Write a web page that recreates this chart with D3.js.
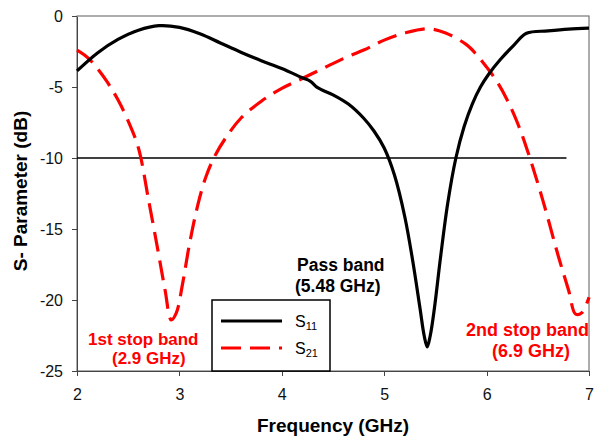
<!DOCTYPE html>
<html lang="en">
<head>
<meta charset="utf-8">
<title>S-Parameter</title>
<script src="https://d3js.org/d3.v7.min.js"></script>
<style>
  html, body { margin: 0; padding: 0; background: #fff; }
  text { font-family: Arial, "Liberation Sans", sans-serif; }
  .axis path, .axis line { fill: none; stroke: #444; shape-rendering: crispEdges; }
  .axis text { font-size: 16px; fill: #111; }
</style>
</head>
<body>
<script>
// frequency (GHz) and dB values
var s11Freq = [2.0, 2.2, 2.4, 2.6, 2.8, 3.0, 3.2, 3.4, 3.6, 3.8, 4.0, 4.2, 4.28, 4.35, 4.5, 4.65, 4.8, 4.9, 5.0, 5.1, 5.2, 5.28, 5.35, 5.39, 5.42, 5.45, 5.49, 5.55, 5.62, 5.7, 5.78, 5.86, 5.94, 6.02, 6.13, 6.26, 6.39, 6.6, 6.8, 7.0];
var s11Val  = [-3.87, -2.6, -1.65, -1.0, -0.68, -0.8, -1.25, -1.9, -2.55, -3.15, -3.7, -4.35, -4.6, -5.05, -5.55, -6.2, -7.2, -8.1, -9.3, -11.2, -14.1, -17.3, -20.6, -22.5, -23.3, -22.5, -20.6, -17.0, -13.2, -10.0, -7.8, -6.2, -5.0, -4.1, -3.1, -2.1, -1.22, -1.05, -0.92, -0.85];

var s21Freq = [2.0, 2.1, 2.2, 2.3, 2.4, 2.5, 2.6, 2.7, 2.79, 2.86, 2.92, 2.97, 3.03, 3.1, 3.18, 3.26, 3.35, 3.46, 3.6, 3.8, 4.0, 4.2, 4.4, 4.6, 4.8, 5.0, 5.2, 5.43, 5.6, 5.8, 5.9, 6.0, 6.1, 6.2, 6.3, 6.4, 6.55, 6.7, 6.8, 6.87, 6.93, 7.0];
var s21Val  = [-2.4, -2.9, -3.7, -4.7, -5.9, -7.4, -9.3, -13.0, -16.5, -19.3, -21.4, -20.9, -18.9, -16.0, -13.3, -11.3, -9.8, -8.5, -7.2, -6.0, -5.1, -4.4, -3.7, -3.0, -2.4, -1.7, -1.2, -0.9, -1.2, -2.0, -2.7, -3.6, -4.6, -5.9, -7.5, -9.5, -13.0, -16.9, -19.3, -21.0, -20.9, -19.8];

var xTicks = [2, 3, 4, 5, 6, 7];
var yTicks = [0, -5, -10, -15, -20, -25];
var refLevel = -10, refEnd = 6.78;

var width = 600, height = 441;
var svg = d3.select("body").append("svg").attr("width", width).attr("height", height);

var x = d3.scaleLinear().domain([2, 7]).range([77, 589]);
var y = d3.scaleLinear().domain([-25, 0]).range([371, 16]);

// frame
svg.append("rect")
  .attr("x", x(2)).attr("y", y(0))
  .attr("width", x(7) - x(2)).attr("height", y(-25) - y(0))
  .attr("fill", "none").attr("stroke", "#777").attr("stroke-width", 1.2);

svg.append("g").attr("class", "axis")
  .attr("transform", "translate(0," + y(-25) + ")")
  .call(d3.axisBottom(x).tickValues(xTicks).tickSize(5).tickSizeOuter(0).tickPadding(13).tickFormat(function(d){ return String(d); }));

svg.append("g").attr("class", "axis")
  .attr("transform", "translate(" + x(2) + ",0)")
  .call(d3.axisLeft(y).tickValues(yTicks).tickSize(5).tickSizeOuter(0).tickPadding(9).tickFormat(function(d){ return String(d); }));

// -10 dB reference line
svg.append("line")
  .attr("x1", x(2)).attr("x2", x(refEnd))
  .attr("y1", y(refLevel)).attr("y2", y(refLevel))
  .attr("stroke", "#000").attr("stroke-width", 1.5);

var line = d3.line()
  .x(function(d){ return x(d[0]); })
  .y(function(d){ return y(d[1]); })
  .curve(d3.curveCatmullRom.alpha(0.5));

var s11 = d3.zip(s11Freq, s11Val);
var s21 = d3.zip(s21Freq, s21Val);

svg.append("path").attr("d", line(s21))
  .attr("fill", "none").attr("stroke", "#ff0000").attr("stroke-width", 3.2)
  .attr("stroke-dasharray", "20,9");

svg.append("path").attr("d", line(s11))
  .attr("fill", "none").attr("stroke", "#000").attr("stroke-width", 3.2);

// annotations
function label(tx, ty, str, col, size) {
  svg.append("text").attr("x", tx).attr("y", ty).text(str)
    .attr("fill", col).attr("font-weight", "bold").attr("font-size", size + "px");
}
label(297, 271, "Pass band", "#000", 17.5);
label(295, 292, "(5.48 GHz)", "#000", 17.5);
label(88, 345, "1st stop band", "#ff0000", 17);
label(112, 364, "(2.9 GHz)", "#ff0000", 17);
label(466, 336, "2nd stop band", "#ff0000", 18);
label(492, 357, "(6.9 GHz)", "#ff0000", 18);

// legend
var leg = svg.append("g");
leg.append("rect").attr("x", 212).attr("y", 300).attr("width", 118).attr("height", 71)
  .attr("fill", "#fff").attr("stroke", "#000").attr("stroke-width", 1.5);
var items = [["11", "#000", null], ["21", "#ff0000", "20,9"]];
items.forEach(function(it, i) {
  var ly = 321 + i * 27;
  leg.append("line").attr("x1", 221).attr("x2", 282).attr("y1", ly).attr("y2", ly)
    .attr("stroke", it[1]).attr("stroke-width", 3.2).attr("stroke-dasharray", it[2]);
  var t = leg.append("text").attr("x", 295).attr("y", ly + 6).attr("font-size", "16px").attr("fill", "#000");
  t.append("tspan").text("S");
  t.append("tspan").attr("dy", 3).attr("font-size", "11px").text(it[0]);
});

// axis titles
svg.append("text").attr("x", 333).attr("y", 432).attr("text-anchor", "middle")
  .attr("font-size", "19px").attr("font-weight", "bold").text("Frequency (GHz)");
svg.append("text").attr("transform", "translate(27," + 191 + ") rotate(-90)")
  .attr("text-anchor", "middle").attr("font-size", "19px").attr("font-weight", "bold")
  .text("S- Parameter (dB)");
</script>
</body>
</html>
